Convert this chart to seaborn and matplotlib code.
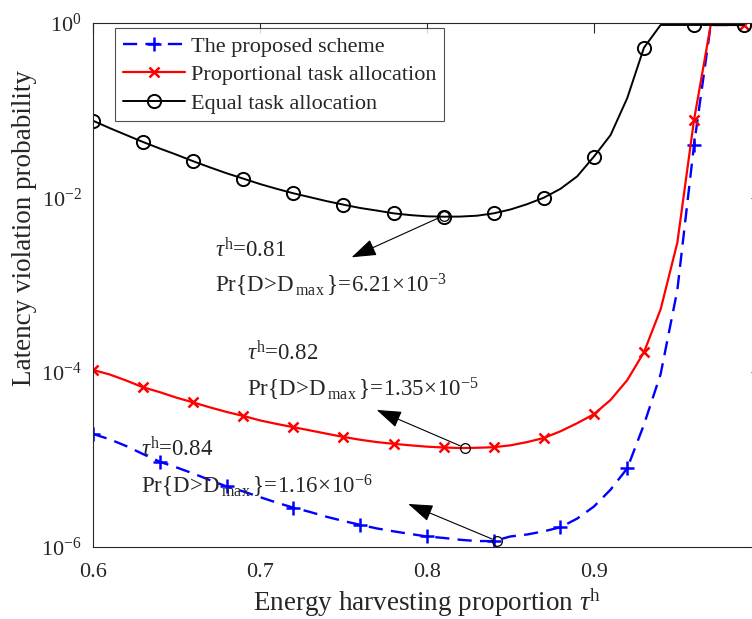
import numpy as np
import pandas as pd
import matplotlib
matplotlib.use('Agg')
import matplotlib.pyplot as plt
import matplotlib.ticker as mticker
import seaborn as sns

tau = [0.60, 0.61, 0.62, 0.63, 0.64, 0.65, 0.66, 0.67, 0.68, 0.69,
       0.70, 0.71, 0.72, 0.73, 0.74, 0.75, 0.76, 0.77, 0.78, 0.79,
       0.80, 0.81, 0.82, 0.83, 0.84, 0.85, 0.86, 0.87, 0.88, 0.89,
       0.90, 0.91, 0.92, 0.93, 0.94, 0.95, 0.96, 0.97, 0.98, 0.99]

proposed = [1.96e-5, 1.70e-5, 1.42e-5, 1.15e-5, 9.4e-6, 8.1e-6, 6.9e-6, 5.8e-6, 4.9e-6, 4.3e-6,
            3.7e-6, 3.2e-6, 2.8e-6, 2.5e-6, 2.2e-6, 1.97e-6, 1.78e-6, 1.62e-6, 1.50e-6, 1.40e-6,
            1.31e-6, 1.26e-6, 1.20e-6, 1.16e-6, 1.16e-6, 1.31e-6, 1.38e-6, 1.50e-6, 1.67e-6, 2.1e-6,
            2.88e-6, 4.5e-6, 7.9e-6, 2.5e-5, 9.5e-5, 8.7e-4, 0.040, 0.95, 0.95, 0.95]

proportional = [1.06e-4, 9.4e-5, 8.0e-5, 6.7e-5, 5.9e-5, 5.1e-5, 4.5e-5, 3.95e-5, 3.5e-5, 3.15e-5,
                2.8e-5, 2.55e-5, 2.34e-5, 2.15e-5, 1.97e-5, 1.81e-5, 1.68e-5, 1.58e-5, 1.51e-5, 1.45e-5,
                1.40e-5, 1.37e-5, 1.35e-5, 1.36e-5, 1.38e-5, 1.45e-5, 1.58e-5, 1.76e-5, 2.1e-5, 2.6e-5,
                3.29e-5, 4.8e-5, 8.1e-5, 1.69e-4, 5.25e-4, 3.04e-3, 7.74e-2, 0.95, 0.95, 0.95]

equal = [0.076, 0.0625, 0.052, 0.0433, 0.0365, 0.031, 0.0261, 0.0222, 0.019, 0.0165,
         0.0143, 0.0126, 0.0112, 0.0101, 0.0091, 0.0083, 0.0076, 0.0071, 0.0066, 0.0063,
         0.0061, 0.00604, 0.00606, 0.0062, 0.0066, 0.0073, 0.0084, 0.00997, 0.0126, 0.0175,
         0.0294, 0.052, 0.138, 0.521, 0.95, 0.95, 0.95, 0.95, 0.95, 0.95]

# optimum points marked on each curve
opt_tau = [0.81, 0.823, 0.842]
opt_prob = [6.21e-3, 1.35e-5, 1.16e-6]
opt_label_tau = ['0.81', '0.82', '0.84']
opt_label_prob = [r'6.21\!\times\!10^{-3}', r'1.35\!\times\!10^{-5}', r'1.16\!\times\!10^{-6}']

df = pd.DataFrame({'tau': tau, 'proposed': proposed,
                   'proportional': proportional, 'equal': equal})

sns.set_style('white')
plt.rcParams['font.family'] = ['Liberation Serif', 'DejaVu Serif']
plt.rcParams['mathtext.fontset'] = 'custom'
plt.rcParams['mathtext.rm'] = 'Liberation Serif'
plt.rcParams['mathtext.it'] = 'Liberation Serif:italic'
plt.rcParams['mathtext.bf'] = 'Liberation Serif:bold'

fig = plt.figure(figsize=(7.52, 6.19), dpi=100)
ax = fig.add_axes([0.1237, 0.1168, 0.888, 0.846])
ax.set_yscale('log')

sns.lineplot(data=df, x='tau', y='proposed', ax=ax, color='#0000ff', lw=1.7,
             estimator=None, sort=False,
             linestyle=(0, (6, 3.5)), marker='+', markevery=4, markersize=10,
             markeredgewidth=1.8, markeredgecolor='#0000ff', label='The proposed scheme')
sns.lineplot(data=df, x='tau', y='proportional', ax=ax, color='#ff0000', lw=1.6,
             estimator=None, sort=False, marker='x', markevery=3, markersize=7,
             markeredgewidth=1.8, markeredgecolor='#ff0000',
             label='Proportional task allocation')
sns.lineplot(data=df, x='tau', y='equal', ax=ax, color='black', lw=1.4,
             estimator=None, sort=False, marker='o', markevery=3, markersize=9.5,
             markerfacecolor='none', markeredgecolor='black', markeredgewidth=1.4,
             label='Equal task allocation')

ax.plot(opt_tau, opt_prob, 'o', ms=7, mfc='none', mec='black', mew=0.9, zorder=5)

tips = [(0.7549, 2.07e-3), (0.7699, 3.69e-5), (0.7888, 3.09e-6)]
txt_x = [0.673, 0.692, 0.6287]
txt_y1 = [2.07e-3, 1.38e-4, 1.1e-5]
txt_y2 = [8.07e-4, 5.2e-5, 4.1e-6]
for i in range(3):
    ax.annotate('', xy=tips[i], xytext=(opt_tau[i], opt_prob[i]),
                arrowprops=dict(arrowstyle='-|>,head_length=1.1,head_width=0.38',
                                mutation_scale=14, color='black', lw=0.8,
                                shrinkA=4, shrinkB=0))
    ax.text(txt_x[i], txt_y1[i], r'$\tau^{\mathrm{h}}$=' + opt_label_tau[i],
            fontsize=16.5, va='baseline', ha='left')
    ax.text(txt_x[i], txt_y2[i],
            r'$\mathrm{Pr\{D\!>\!D_{\,max}\,\}\!=\!' + opt_label_prob[i] + '}$',
            fontsize=16.5, va='baseline', ha='left')

ax.set_xlim(0.6, 1.0)
ax.set_ylim(1e-6, 1)
ax.xaxis.set_major_locator(mticker.FixedLocator([0.6, 0.7, 0.8, 0.9]))
ax.xaxis.set_major_formatter(mticker.FuncFormatter(lambda v, p: f'{v:g}'))
ax.yaxis.set_major_locator(mticker.FixedLocator([1e-6, 1e-4, 1e-2, 1]))
ax.yaxis.set_major_formatter(mticker.FuncFormatter(
    lambda v, p: r'$\mathrm{10^{%d}}$' % int(round(np.log10(v)))))
ax.yaxis.set_minor_locator(mticker.LogLocator(base=10, subs=np.arange(1, 10), numticks=30))
ax.yaxis.set_minor_formatter(mticker.NullFormatter())
ax.tick_params(which='both', direction='in', top=True, right=True,
               labelsize=16, colors='#262626', width=0.8)
ax.tick_params(which='major', length=7)
ax.tick_params(which='minor', length=4)
ax.tick_params(axis='x', pad=12)
ax.tick_params(axis='y', pad=8)
for s in ax.spines.values():
    s.set_color('#262626')
    s.set_linewidth(0.8)

ax.set_xlabel(r'Energy harvesting proportion $\tau^{\mathrm{h}}$', fontsize=19.5,
              color='#262626')
ax.xaxis.set_label_coords(0.5007, -0.076)
ax.set_ylabel('Latency violation probability', fontsize=19.5, color='#262626')
ax.yaxis.set_label_coords(-0.084, 0.609)

leg = ax.legend(loc='upper left', bbox_to_anchor=(0.033, 0.990), fontsize=16,
                frameon=True, fancybox=False, edgecolor='#262626',
                handlelength=2.8, borderpad=0.35, labelspacing=0.36, handletextpad=0.25,
                borderaxespad=0)
leg.get_frame().set_linewidth(0.8)

fig.savefig('out.png', dpi=100)
